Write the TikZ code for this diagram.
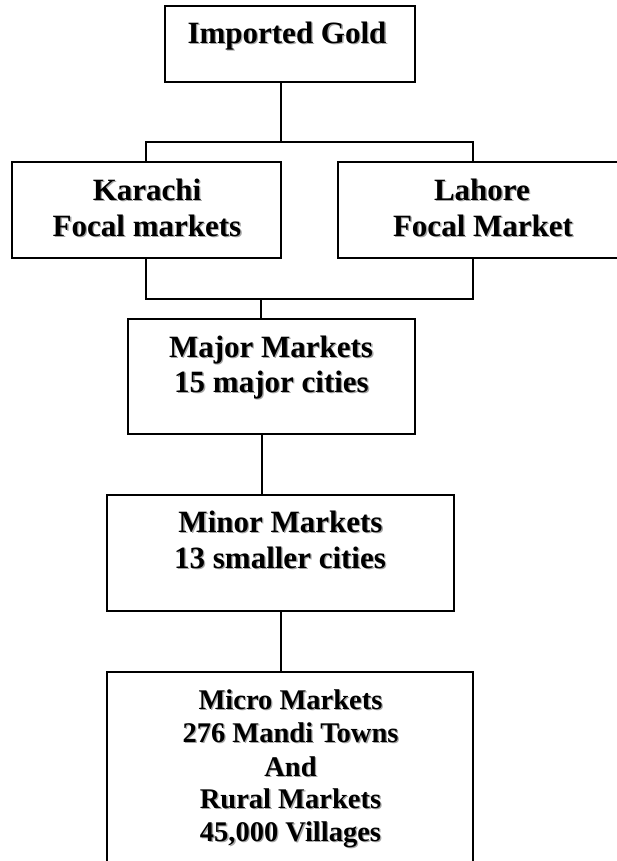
\documentclass[tikz,border=0pt]{standalone}
\usepackage{fontspec}
\setmainfont{Liberation Serif}
\newcommand{\shad}[1]{\makebox[0pt][l]{\kern1.3bp\raisebox{-1.3bp}{\textcolor{black!35}{#1}}}#1}
\begin{document}
\begin{tikzpicture}[x=1bp,y=-1bp,
  box/.style={draw,line width=1.3bp,inner sep=0pt,outer sep=0pt,rectangle},
  conn/.style={line width=1.1bp},
  txt/.style={anchor=base,inner sep=0pt,font=\bfseries\fontsize{31bp}{36bp}\selectfont},
  txts/.style={anchor=base,inner sep=0pt,font=\bfseries\fontsize{28.5bp}{33bp}\selectfont}]
\clip (0,0) rectangle (617,861);
\fill[white] (0,0) rectangle (617,861);
% boxes
\node[box,minimum width=250bp,minimum height=76bp] (gold) at (290,44) {};
\node[box,minimum width=269bp,minimum height=96bp] (kar) at (146.5,210) {};
\node[box,minimum width=290bp,minimum height=96bp] (lah) at (483,210) {};
\node[box,minimum width=287bp,minimum height=115bp] (maj) at (271.5,376.5) {};
\node[box,minimum width=347bp,minimum height=116bp] (min) at (280.5,553) {};
\node[box,minimum width=366bp,minimum height=228bp] (mic) at (290,786) {};
% connectors
\coordinate (j1) at (281,142);
\coordinate (ta) at (146,142);
\coordinate (tb) at (473,142);
\coordinate (ba) at (146,299);
\coordinate (bb) at (473,299);
\coordinate (j2) at (261,299);
\coordinate (j3) at (262,0);
\coordinate (j4) at (281,0);
\draw[conn] (j1 |- gold.south) -- (j1);
\draw[conn] (ta |- kar.north) -- (ta) -- (tb) -- (tb |- lah.north);
\draw[conn] (ta |- kar.south) -- (ba) -- (bb) -- (tb |- lah.south);
\draw[conn] (j2) -- (j2 |- maj.north);
\draw[conn] (j3 |- maj.south) -- (j3 |- min.north);
\draw[conn] (j4 |- min.south) -- (j4 |- mic.north);
% texts
\node[txt] (t1) at (287,43) {\shad{Imported Gold}};
\node[txt] (t2) at (147,200) {\shad{Karachi}};
\node[txt] (t3) at (147,236) {\shad{Focal markets}};
\node[txt] (t4) at (482,200) {\shad{Lahore}};
\node[txt] (t5) at (483,236) {\shad{Focal Market}};
\node[txt] (t6) at (271,357) {\shad{Major Markets}};
\node[txt] (t7) at (271.5,392) {\shad{15 major cities}};
\node[txt] (t8) at (280.5,532) {\shad{Minor Markets}};
\node[txt] (t9) at (280,568) {\shad{13 smaller cities}};
\node[txts] (t10) at (290.5,709) {\shad{Micro Markets}};
\node[txts] (t11) at (290.5,742) {\shad{276 Mandi Towns}};
\node[txts] (t12) at (290.5,776) {\shad{And}};
\node[txts] (t13) at (290.5,808) {\shad{Rural Markets}};
\node[txts] (t14) at (290.5,841) {\shad{45,000 Villages}};
\end{tikzpicture}
\end{document}
